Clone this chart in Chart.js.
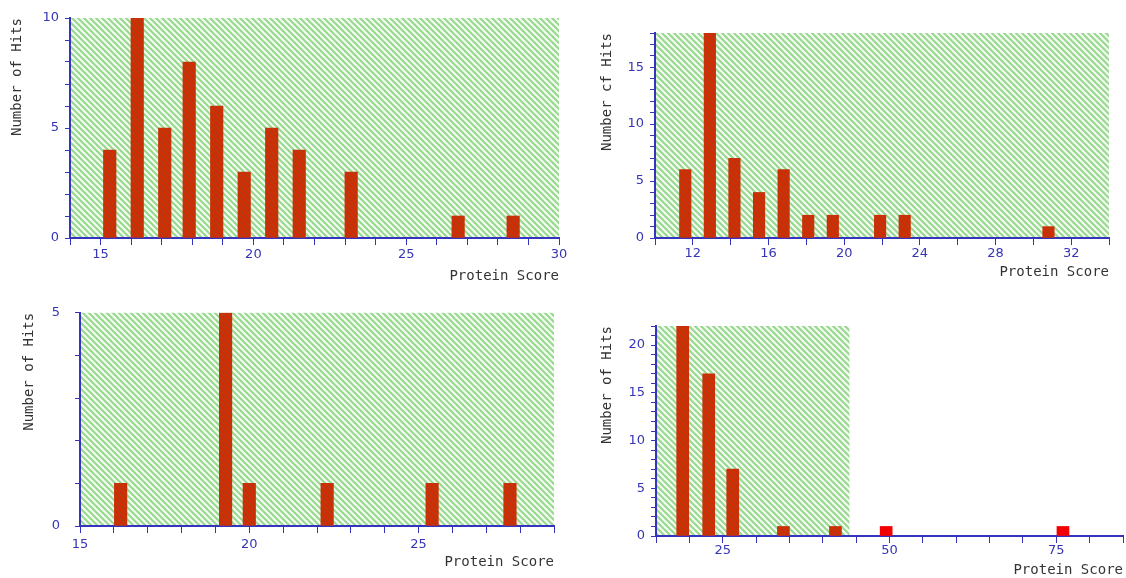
<!DOCTYPE html>
<html>
<head>
<meta charset="utf-8">
<script src="https://cdn.jsdelivr.net/npm/chart.js@4/dist/chart.umd.min.js"></script>
<style>
  body { margin: 0; background: #fff; }
  canvas { position: absolute; }
</style>
</head>
<body>
<canvas id="c1"></canvas>
<canvas id="c2"></canvas>
<canvas id="c3"></canvas>
<canvas id="c4"></canvas>
<script>
// Datos (Protein Score / Number of Hits)
const scores1 = [15.3, 16.2, 17.1, 17.9, 18.8, 19.7, 20.6, 21.5, 23.2, 26.7, 28.5];
const hits1 = [4, 10, 5, 8, 6, 3, 5, 4, 3, 1, 1];

const scores2 = [11.6, 12.9, 14.2, 15.5, 16.8, 18.1, 19.4, 21.9, 23.2, 30.8];
const hits2 = [6, 18, 7, 4, 6, 2, 2, 2, 2, 1];

const scores3 = [16.2, 19.3, 20.0, 22.3, 25.4, 27.7];
const hits3 = [1, 5, 1, 1, 1, 1];

const scores4 = [19.0, 22.9, 26.5, 34.1, 41.9, 49.5, 76.0];
const hits4 = [22, 17, 7, 1, 1, 1, 1];

const xTitle = 'Protein Score';
const yTitles = ['Number of Hits', 'Number cf Hits', 'Number of Hits', 'Number of Hits'];
const shadeLimit4 = 44;

const AXIS = '#3434c0';
const TICK_TXT = '#3535b5';

// Patrones rayados (fondo verde y barras rojas)
function stripes(base, line, w) {
    const n = 6;
    const p = document.createElement('canvas');
    p.width = n; p.height = n;
    const g = p.getContext('2d');
    g.fillStyle = base;
    g.fillRect(0, 0, n, n);
    g.strokeStyle = line;
    g.lineWidth = w;
    [-n, 0, n].forEach(k => {
        g.beginPath();
        g.moveTo(k - 1, -1);
        g.lineTo(k + n + 1, n + 1);
        g.stroke();
    });
    return g.createPattern(p, 'repeat');
}
const greenPat = stripes('#f6fcf3', '#98d990', 2.2);
const redPat = stripes('#d62a00', '#b23c14', 1.8);

const hatchBg = {
    id: 'hatchBg',
    beforeDraw(chart, args, opts) {
        const a = chart.chartArea;
        const right = opts.limit != null ? chart.scales.x.getPixelForValue(opts.limit) : a.right;
        const ctx = chart.ctx;
        ctx.save();
        ctx.fillStyle = greenPat;
        ctx.fillRect(a.left, a.top, right - a.left, a.bottom - a.top);
        ctx.restore();
    }
};

function panel(id, box, o) {
    const cv = document.getElementById(id);
    cv.style.left = box[0] + 'px';
    cv.style.top = box[1] + 'px';
    cv.width = box[2];
    cv.height = box[3];

    const L = o.left - box[0], T = o.top - box[1], R = o.right - box[0], B = o.bottom - box[1];
    const half = 14 * 1.2 / 2;
    const yTitleLeft = o.yTitleX - box[0] - half;
    const yW = L - yTitleLeft;
    const xTitleBottom = o.xTitleY - box[1] + half;
    const xH = xTitleBottom - B;

    return new Chart(cv, {
        type: 'bar',
        data: {
            datasets: [{
                data: o.xs.map((x, i) => ({ x: x, y: o.ys[i] })),
                backgroundColor: o.xs.map(x => (o.limit == null || x < o.limit) ? redPat : '#f20000'),
                borderWidth: 0,
                barThickness: o.barW
            }]
        },
        options: {
            responsive: false,
            animation: false,
            layout: { padding: { left: yTitleLeft, top: T, right: box[2] - R, bottom: box[3] - xTitleBottom } },
            plugins: {
                legend: { display: false },
                tooltip: { enabled: false },
                hatchBg: { limit: o.limit }
            },
            scales: {
                x: {
                    type: 'linear',
                    min: o.xMin, max: o.xMax,
                    offset: false,
                    afterFit: s => { s.height = xH; },
                    grid: { offset: false, drawOnChartArea: false, color: AXIS, tickLength: 7 },
                    border: { color: AXIS, width: 2 },
                    ticks: {
                        stepSize: o.xStep,
                        autoSkip: false,
                        maxRotation: 0,
                        padding: o.xPad,
                        color: TICK_TXT,
                        font: { family: 'DejaVu Sans', size: 13 },
                        callback: v => (v % o.xEvery === 0 ? v : '')
                    },
                    title: {
                        display: true, text: xTitle, align: 'end',
                        color: '#333', padding: 0,
                        font: { family: 'DejaVu Sans Mono', size: 14 }
                    }
                },
                y: {
                    min: 0, max: o.yMax,
                    afterFit: s => { s.width = yW; },
                    grid: { drawOnChartArea: false, color: AXIS, tickLength: 5 },
                    border: { color: AXIS, width: 2 },
                    ticks: {
                        stepSize: 1,
                        autoSkip: false,
                        padding: o.yPad,
                        color: TICK_TXT,
                        font: { family: 'DejaVu Sans', size: 13 },
                        callback: v => (v % o.yEvery === 0 ? v : '')
                    },
                    title: {
                        display: true, text: o.yTitle, align: 'end',
                        color: '#333', padding: 0,
                        font: { family: 'DejaVu Sans Mono', size: 14 }
                    }
                }
            }
        },
        plugins: [hatchBg]
    });
}

panel('c1', [0, 0, 575, 290], {
    xs: scores1, ys: hits1, yTitle: yTitles[0],
    left: 70, top: 18, right: 559, bottom: 238, yTitleX: 17, xTitleY: 276,
    xMin: 14, xMax: 30, xStep: 1, xEvery: 5, yMax: 10, yEvery: 5,
    barW: 12.5, yPad: 6, xPad: 2
});

panel('c2', [575, 0, 551, 290], {
    xs: scores2, ys: hits2, yTitle: yTitles[1],
    left: 655, top: 33, right: 1109, bottom: 238, yTitleX: 607, xTitleY: 272,
    xMin: 10, xMax: 34, xStep: 2, xEvery: 4, yMax: 18, yEvery: 5,
    barW: 11.5, yPad: 6, xPad: 1
});

panel('c3', [0, 290, 575, 288], {
    xs: scores3, ys: hits3, yTitle: yTitles[2],
    left: 80, top: 312, right: 554, bottom: 526, yTitleX: 29, xTitleY: 562,
    xMin: 15, xMax: 29, xStep: 1, xEvery: 5, yMax: 5, yEvery: 5,
    barW: 12.5, yPad: 15, xPad: 4
});

panel('c4', [575, 290, 551, 288], {
    xs: scores4, ys: hits4, yTitle: yTitles[3], limit: shadeLimit4,
    left: 656, top: 326, right: 1123, bottom: 536, yTitleX: 607, xTitleY: 570,
    xMin: 15, xMax: 85, xStep: 5, xEvery: 25, yMax: 22, yEvery: 5,
    barW: 12, yPad: 6, xPad: 0
});
</script>
</body>
</html>
